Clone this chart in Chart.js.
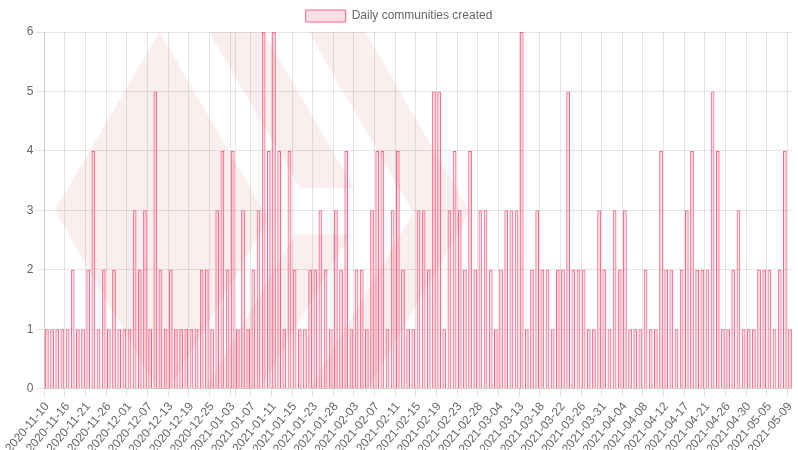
<!DOCTYPE html>
<html>
<head>
<meta charset="utf-8">
<script src="https://cdn.jsdelivr.net/npm/chart.js@4.4.1/dist/chart.umd.min.js"></script>
<style>
html,body{margin:0;padding:0;background:#ffffff;}
#wrap{width:798px;height:450px;}
</style>
</head>
<body>
<div id="wrap"><canvas id="c" width="798" height="450"></canvas></div>
<script>
const dates = [
  "2020-11-10","2020-11-11","2020-11-12","2020-11-14",
  "2020-11-16","2020-11-17","2020-11-18","2020-11-20",
  "2020-11-21","2020-11-23","2020-11-24","2020-11-25",
  "2020-11-26","2020-11-27","2020-11-29","2020-11-30",
  "2020-12-01","2020-12-02","2020-12-04","2020-12-05",
  "2020-12-07","2020-12-08","2020-12-10","2020-12-11",
  "2020-12-13","2020-12-14","2020-12-16","2020-12-17",
  "2020-12-19","2020-12-21","2020-12-22","2020-12-23",
  "2020-12-25","2020-12-28","2020-12-30","2021-01-02",
  "2021-01-03","2021-01-04","2021-01-05","2021-01-06",
  "2021-01-07","2021-01-08","2021-01-09","2021-01-10",
  "2021-01-11","2021-01-12","2021-01-13","2021-01-14",
  "2021-01-15","2021-01-18","2021-01-20","2021-01-21",
  "2021-01-23","2021-01-25","2021-01-26","2021-01-27",
  "2021-01-28","2021-01-30","2021-02-01","2021-02-02",
  "2021-02-03","2021-02-04","2021-02-05","2021-02-06",
  "2021-02-07","2021-02-08","2021-02-09","2021-02-10",
  "2021-02-11","2021-02-12","2021-02-13","2021-02-14",
  "2021-02-15","2021-02-16","2021-02-17","2021-02-18",
  "2021-02-19","2021-02-20","2021-02-21","2021-02-22",
  "2021-02-23","2021-02-24","2021-02-26","2021-02-27",
  "2021-02-28","2021-03-01","2021-03-02","2021-03-03",
  "2021-03-04","2021-03-06","2021-03-09","2021-03-11",
  "2021-03-13","2021-03-15","2021-03-16","2021-03-17",
  "2021-03-18","2021-03-19","2021-03-20","2021-03-21",
  "2021-03-22","2021-03-23","2021-03-24","2021-03-25",
  "2021-03-26","2021-03-28","2021-03-29","2021-03-30",
  "2021-03-31","2021-04-01","2021-04-02","2021-04-03",
  "2021-04-04","2021-04-05","2021-04-06","2021-04-07",
  "2021-04-08","2021-04-09","2021-04-10","2021-04-11",
  "2021-04-12","2021-04-14","2021-04-15","2021-04-16",
  "2021-04-17","2021-04-18","2021-04-19","2021-04-20",
  "2021-04-21","2021-04-22","2021-04-23","2021-04-25",
  "2021-04-26","2021-04-27","2021-04-28","2021-04-29",
  "2021-04-30","2021-05-01","2021-05-03","2021-05-04",
  "2021-05-05","2021-05-06","2021-05-07","2021-05-08",
  "2021-05-09"
];

const communities = [
  1,1,1,1,1,2,1,1,2,4,1,2,1,2,1,1,1,3,
  2,3,1,5,2,1,2,1,1,1,1,1,2,2,1,3,4,2,
  4,1,3,1,2,3,6,4,6,4,1,4,2,1,1,2,2,3,
  2,1,3,2,4,1,2,2,1,3,4,4,1,3,4,2,1,1,
  3,3,2,5,5,1,3,4,3,2,4,2,3,3,2,1,2,
  3,3,3,6,1,2,3,2,2,1,2,2,5,2,2,2,1,1,
  3,2,1,3,2,3,1,1,1,2,1,1,4,2,2,1,2,3,
  4,2,2,2,5,4,1,1,2,3,1,1,1,2,2,2,1,2,4,1
];

const seriesLabel = "Daily communities created";
const yMin = 0, yMax = 6, yStep = 1;
const labelEvery = 4;
const extraGridIndex = 37;

// faint background logo, shapes as fractions of the chart area
const logoShapes = [
  [[0.154,0],[0.300,0.525],[0.159,1.03],[0.014,0.500]],
  [[0.220,0],[0.293,0],[0.414,0.438],[0.342,0.438]],
  [[0.335,0.567],[0.409,0.567],[0.288,1.0],[0.215,1.0]],
  [[0.353,0],[0.429,0],[0.569,0.506],[0.432,1.0],[0.355,1.0],[0.493,0.506]]
];

const logoPlugin = {
  id: 'logoBg',
  beforeDraw(chart) {
    const {ctx, chartArea: a} = chart;
    const w = a.right - a.left, h = a.bottom - a.top;
    ctx.save();
    ctx.beginPath();
    ctx.rect(a.left, a.top, w, h);
    ctx.clip();
    ctx.fillStyle = 'rgba(230,140,140,0.15)';
    logoShapes.forEach(poly => {
      ctx.beginPath();
      poly.forEach((p, i) => {
        const x = a.left + p[0] * w, y = a.top + p[1] * h;
        if (i === 0) ctx.moveTo(x, y); else ctx.lineTo(x, y);
      });
      ctx.closePath();
      ctx.fill();
    });
    ctx.restore();
  }
};

const showTick = i => i !== undefined && (i % labelEvery === 0 || i === extraGridIndex);

new Chart(document.getElementById('c'), {
  type: 'bar',
  data: {
    labels: dates,
    datasets: [{
      label: seriesLabel,
      data: communities,
      backgroundColor: 'rgba(255, 99, 132, 0.2)',
      borderColor: 'rgba(255, 99, 132, 1)',
      borderWidth: 1
    }]
  },
  options: {
    responsive: false,
    animation: false,
    devicePixelRatio: 1,
    plugins: {
      legend: { display: true },
      tooltip: { enabled: false }
    },
    scales: {
      x: {
        afterFit(scale) {
          scale.height -= 9;
          scale.paddingLeft += 5;
          scale.paddingRight = Math.max(0, scale.paddingRight - 6);
        },
        grid: {
          color: ctx => showTick(ctx.index) ? 'rgba(0,0,0,0.1)' : 'rgba(0,0,0,0)',
          tickColor: ctx => showTick(ctx.index) ? 'rgba(0,0,0,0.1)' : 'rgba(0,0,0,0)'
        },
        ticks: {
          autoSkip: false,
          maxRotation: 50,
          callback: function(v, i) {
            return i % labelEvery === 0 ? this.getLabelForValue(v) : '';
          }
        }
      },
      y: {
        min: yMin,
        max: yMax,
        ticks: { stepSize: yStep }
      }
    }
  },
  plugins: [logoPlugin]
});
</script>
</body>
</html>
